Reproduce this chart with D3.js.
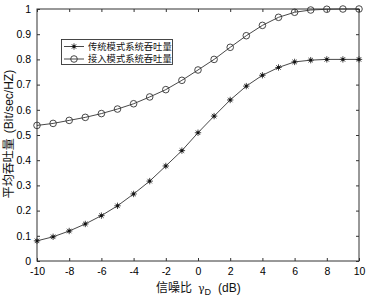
<!DOCTYPE html>
<html><head><meta charset="utf-8">
<script src="https://cdn.jsdelivr.net/npm/d3@7"></script>
<style>body{margin:0;background:#fff}svg{display:block}</style>
</head><body>
<script>
const snr = [-10,-9,-8,-7,-6,-5,-4,-3,-2,-1,0,1,2,3,4,5,6,7,8,9,10];
const traditional = [0.080,0.096,0.119,0.147,0.180,0.219,0.266,0.317,0.377,0.438,0.509,0.575,0.639,0.694,0.737,0.768,0.790,0.797,0.800,0.800,0.800];
const access = [0.538,0.546,0.558,0.570,0.585,0.603,0.624,0.651,0.680,0.717,0.758,0.800,0.848,0.894,0.935,0.967,0.987,0.996,0.999,1.000,1.000];
const seriesNames = ["传统模式系统吞吐量","接入模式系统吞吐量"];
const xTicks = [-10,-8,-6,-4,-2,0,2,4,6,8,10];
const yTicks = [0,0.1,0.2,0.3,0.4,0.5,0.6,0.7,0.8,0.9,1];

const W=368,H=298;
const m={l:37,r:9,t:9,b:37};
const svg=d3.select("body").append("svg").attr("width",W).attr("height",H);
const x=d3.scaleLinear().domain([-10,10]).range([m.l,W-m.r]);
const y=d3.scaleLinear().domain([0,1]).range([H-m.b,m.t]);
const col="#333";
const tickFont="Liberation Sans, Arial, sans-serif";

function styleAxis(g,labels){
  g.select(".domain").remove();
  g.selectAll(".tick line").attr("stroke",col);
  g.selectAll(".tick text").attr("fill","#000").style("font-family",tickFont).style("font-size","10.5px");
  if(!labels) g.selectAll(".tick text").remove();
}
svg.append("g").attr("transform",`translate(0,${y(0)})`)
  .call(d3.axisBottom(x).tickValues(xTicks).tickSize(-3).tickPadding(7).tickFormat(d=>String(d)))
  .call(g=>styleAxis(g,true));
svg.append("g").attr("transform",`translate(0,${y(1)})`)
  .call(d3.axisTop(x).tickValues(xTicks).tickSize(-3))
  .call(g=>styleAxis(g,false));
svg.append("g").attr("transform",`translate(${x(-10)},0)`)
  .call(d3.axisLeft(y).tickValues(yTicks).tickSize(-3).tickPadding(6).tickFormat(d=>d===0||d===1?String(d):d.toFixed(1)))
  .call(g=>styleAxis(g,true));
svg.append("g").attr("transform",`translate(${x(10)},0)`)
  .call(d3.axisRight(y).tickValues(yTicks).tickSize(-3))
  .call(g=>styleAxis(g,false));
svg.append("rect").attr("x",x(-10)).attr("y",y(1)).attr("width",x(10)-x(-10)).attr("height",y(0)-y(1))
  .attr("fill","none").attr("stroke",col).attr("stroke-width",1);

const line=d3.line().x((d,i)=>x(snr[i])).y(d=>y(d));
function star(g,cx,cy){
  const r=3.2;
  for(let k=0;k<4;k++){
    const a=k*Math.PI/4;
    g.append("line").attr("x1",cx-r*Math.cos(a)).attr("y1",cy-r*Math.sin(a))
      .attr("x2",cx+r*Math.cos(a)).attr("y2",cy+r*Math.sin(a)).attr("stroke",col).attr("stroke-width",0.9);
  }
  g.append("rect").attr("x",cx-1.3).attr("y",cy-1.3).attr("width",2.6).attr("height",2.6).attr("fill","#111");
}
function circ(g,cx,cy){
  g.append("circle").attr("cx",cx).attr("cy",cy).attr("r",3.3).attr("fill","none").attr("stroke",col).attr("stroke-width",0.9);
}
const gT=svg.append("g"), gA=svg.append("g");
gT.append("path").attr("d",line(traditional)).attr("fill","none").attr("stroke",col).attr("stroke-width",0.9);
gA.append("path").attr("d",line(access)).attr("fill","none").attr("stroke",col).attr("stroke-width",0.9);
traditional.forEach((v,i)=>star(gT,x(snr[i]),y(v)));
access.forEach((v,i)=>circ(gA,x(snr[i]),y(v)));

// legend
const lg=svg.append("g");
lg.append("rect").attr("x",61.5).attr("y",39.5).attr("width",111).attr("height",25).attr("fill","#fff").attr("stroke",col).attr("stroke-width",0.9);
[0,1].forEach(k=>{
  const yy=46.5+k*12.5;
  lg.append("line").attr("x1",64).attr("x2",84).attr("y1",yy).attr("y2",yy).attr("stroke",col).attr("stroke-width",0.9);
  if(k===0) star(lg,74,yy); else circ(lg,74,yy);
  lg.append("text").attr("x",88).attr("y",yy).attr("dy","0.35em").text(seriesNames[k])
    .style("font-family","Noto Sans CJK SC").style("font-size","9.3px").attr("fill","#111");
});

// axis labels
const xl=svg.append("text").attr("x",156).attr("y",292).style("font-size","12px").attr("fill","#111");
xl.append("tspan").style("font-family","Noto Sans CJK SC").text("信噪比");
xl.append("tspan").attr("dx","6").style("font-family","DejaVu Serif, serif").style("font-size","11px").text("γ");
xl.append("tspan").style("font-family",tickFont).style("font-size","9px").attr("dy","3").text("D");
xl.append("tspan").attr("dx","7").style("font-family",tickFont).attr("dy","-3").text("(dB)");

const yl=svg.append("text").attr("transform","translate(13,134) rotate(-90)").attr("text-anchor","middle")
  .style("font-size","12px").attr("fill","#111");
yl.append("tspan").style("font-family","Noto Sans CJK SC").text("平均吞吐量");
yl.append("tspan").attr("dx","5").style("font-family",tickFont).text("(Bit/sec/HZ)");
</script>
</body></html>
